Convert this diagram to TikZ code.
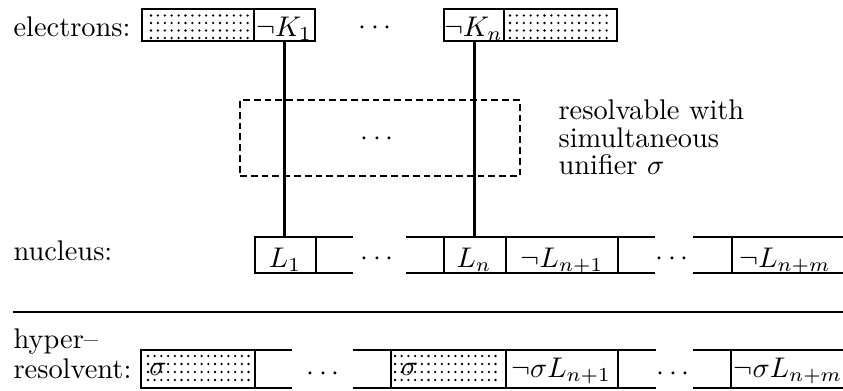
\documentclass[tikz,border=0pt]{standalone}
\usetikzlibrary{fit}
\begin{document}
\begin{tikzpicture}[x=0.352pt,y=-0.352pt,
  bx/.style={draw, line width=1.0pt, inner sep=0pt, outer sep=0pt},
  openbx/.style={inner sep=0pt, outer sep=0pt},
  seg/.style={line width=1.0pt},
  conn/.style={line width=0.75pt},
  thickconn/.style={line width=1.05pt},
  resbox/.style={draw, line width=1.0pt, dash pattern=on 2.4pt off 1.4pt, inner sep=0pt},
  lbl/.style={anchor=base west, inner sep=0pt},
  txt/.style={anchor=base, inner sep=0pt},
  dotc/.style={fill=black}]
\useasboundingbox (0,0) rectangle (843,390);

% ---------- electrons row ----------
\node[lbl] (elab) at (13,36.5) {electrons:};
\node[bx, fit={(142,9)(254,41)}] (e1) {};
\node[bx, fit={(254,9)(315,41)}] (k1) {};
\node[txt] (k1t) at (284,36.5) {$\neg K_1$};
\node[txt] (edots) at (375,34) {$\cdots$};
\node[bx, fit={(444,9)(504,41)}] (kn) {};
\node[txt] (knt) at (473.5,36.5) {$\neg K_n$};
\node[bx, fit={(504,9)(617,41)}] (e4) {};

\foreach \yy in {15.5,23,30.5,38} {
  \foreach \k in {0,...,14} {
    \fill[dotc] (151+\k*6.9,\yy) circle (0.45pt);
    \fill[dotc] (510+\k*6.9,\yy) circle (0.45pt);
  }
}

% ---------- dashed resolution box ----------
\node[resbox, fit={(240,100)(520,176)}] (res) {};
\node[txt] (rdots) at (377,145) {$\cdots$};
\node[lbl] (r1) at (558,119) {resolvable with};
\node[lbl] (r2) at (558,147) {simultaneous};
\node[lbl] (r3) at (558,174) {unifier $\sigma$};

% ---------- nucleus row ----------
\node[lbl] (nlab) at (13,260) {nucleus:};
\node[bx, fit={(255,237)(316,273)}] (l1) {};
\node[txt] (l1t) at (285,267) {$L_1$};
\coordinate (l1a) at (353,237);
\coordinate (l1b) at (353,273);
\draw[seg] (l1.north east) -- (l1a);
\draw[seg] (l1.south east) -- (l1b);
\node[txt] (ndots1) at (377,265) {$\cdots$};
\coordinate (lna) at (406,237);
\coordinate (lnb) at (406,273);
\node[bx, fit={(444,237)(506,273)}] (ln) {};
\node[txt] (lnt) at (474,267) {$L_n$};
\draw[seg] (lna) -- (ln.north west);
\draw[seg] (lnb) -- (ln.south west);
\node[bx, fit={(506,237)(618,273)}] (ln1) {};
\node[txt] (ln1t) at (562,267) {$\neg L_{n+1}$};
\coordinate (ln1a) at (655,237);
\coordinate (ln1b) at (655,273);
\draw[seg] (ln1.north east) -- (ln1a);
\draw[seg] (ln1.south east) -- (ln1b);
\node[txt] (ndots2) at (672,265) {$\cdots$};
\coordinate (lma) at (693,237);
\coordinate (lmb) at (693,273);
\node[openbx, fit={(732,237)(843,273)}] (lm) {};
\node[txt] (lmt) at (785,267) {$\neg L_{n+m}$};
\draw[seg] (lma) -- (lm.north west) -- (lm.north east);
\draw[seg] (lmb) -- (lm.south west) -- (lm.south east);
\draw[seg] (lm.north west) -- (lm.south west);

% ---------- connectors ----------
\draw[conn] (k1.south) -- (k1.south |- l1.north);
\draw[thickconn] (kn.south) -- (kn.south |- ln.north);

% ---------- separator ----------
\coordinate (sepa) at (13,312);
\coordinate (sepb) at (843,312);
\draw[line width=0.8pt] (sepa) -- (sepb);

% ---------- hyper-resolvent row ----------
\node[lbl] (hlab1) at (13,348) {hyper--};
\node[lbl] (hlab2) at (13,378) {resolvent:};
\node[bx, fit={(141,350)(255,388)}] (h1) {};
\coordinate (h1a) at (292,350);
\coordinate (h1b) at (292,388);
\draw[seg] (h1.north east) -- (h1a);
\draw[seg] (h1.south east) -- (h1b);
\node[txt] (hdots1) at (323,380) {$\cdots$};
\coordinate (h2a) at (353,350);
\coordinate (h2b) at (353,388);
\node[bx, fit={(391,350)(506,388)}] (h2) {};
\draw[seg] (h2a) -- (h2.north west);
\draw[seg] (h2b) -- (h2.south west);
\node[bx, fit={(506,350)(618,388)}] (h3) {};
\node[txt] (h3t) at (561,377) {$\neg\sigma L_{n+1}$};
\coordinate (h3a) at (656,350);
\coordinate (h3b) at (656,388);
\draw[seg] (h3.north east) -- (h3a);
\draw[seg] (h3.south east) -- (h3b);
\node[txt] (hdots2) at (673,380) {$\cdots$};
\coordinate (hma) at (693,350);
\coordinate (hmb) at (693,388);
\node[openbx, fit={(731,350)(843,388)}] (hm) {};
\node[txt] (hmt) at (788,377) {$\neg\sigma L_{n+m}$};
\draw[seg] (hma) -- (hm.north west) -- (hm.north east);
\draw[seg] (hmb) -- (hm.south west) -- (hm.south east);
\draw[seg] (hm.north west) -- (hm.south west);

\foreach \yy in {356,364,372,380} {
  \foreach \k in {0,...,15} {
    \fill[dotc] (148+\k*6.7,\yy) circle (0.45pt);
    \fill[dotc] (395+\k*6.7,\yy) circle (0.45pt);
  }
}
\node[txt] (s1) at (158,375) {$\sigma$};
\node[txt] (s2) at (409.5,375) {$\sigma$};

\end{tikzpicture}
\end{document}
